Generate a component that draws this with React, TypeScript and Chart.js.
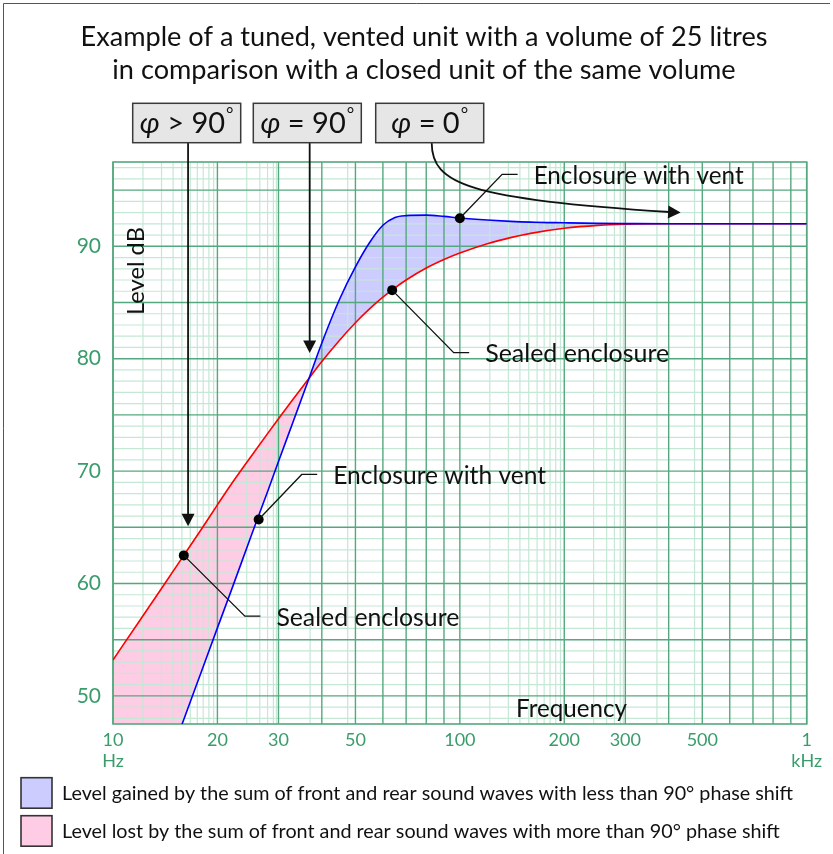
import React, { useEffect, useRef } from 'react';
import { Chart, registerables } from 'chart.js';

Chart.register(...registerables);

// ---------- data ----------
const frequencies = [10, 12, 14, 16, 18, 20, 22, 25, 28, 30, 33, 36, 40, 45, 50, 55, 60, 65, 70, 80, 90, 100, 120, 140, 160, 200, 250, 300, 400, 500, 700, 1000];
const sealedLevels = [53.2, 56.8, 59.85, 62.5, 64.85, 67.0, 68.9, 71.3, 73.4, 74.65, 76.37, 77.9, 79.75, 81.65, 83.2, 84.45, 85.47, 86.3, 87.0, 88.07, 88.83, 89.4, 90.23, 90.77, 91.15, 91.6, 91.86, 91.96, 92.0, 92.0, 92.0, 92.0];
const ventedLevels = [30.8, 37.4, 43.05, 47.9, 52.2, 56.05, 59.5, 64.2, 68.3, 70.85, 74.33, 77.5, 81.4, 85.29, 88.17, 90.36, 91.87, 92.57, 92.73, 92.77, 92.66, 92.52, 92.34, 92.22, 92.15, 92.09, 92.04, 92.02, 92.0, 92.0, 92.0, 92.0];

const markerFreqs = [100, 63.8, 26.3, 16];
const markerLevels = [92.5, 86.1, 65.7, 62.5];

const calloutTexts = ['Enclosure with vent', 'Sealed enclosure', 'Enclosure with vent', 'Sealed enclosure'];
const calloutElbowFreqs = [132.4, 96, 35, 24];
const calloutElbowLevels = [96.4, 80.54, 69.7, 57.1];

const phaseSigns = ['>', '=', '='];
const phaseDegrees = ['90', '90', '0'];
const arrowTipFreqs = [16.46, 36.9, 433];
const arrowTipLevels = [65.1, 80.5, 93.0];

const xTickValues = [10, 20, 30, 50, 100, 200, 300, 500, 1000];
const xTickLabels: (string | string[])[] = [['10', 'Hz'], '20', '30', '50', '100', '200', '300', '500', ['1', 'kHz']];
const yTickValues = [50, 60, 70, 80, 90];

const majorGridFreqs = [10, 20, 30, 40, 50, 60, 70, 80, 90, 100, 200, 300, 400, 500, 600, 700, 800, 900, 1000];
const minorGridFreqs = [12.2, 13.8, 14.9, 15.8, 16.7, 17.5, 18.2, 18.9, 19.5, 24.3, 26.5, 27.9, 29, 29.6, 37, 47.5,
  122, 138, 149, 158, 167, 175, 182, 189, 195, 243, 265, 279, 290, 296, 370, 475];

const titleLines = ['Example of a tuned, vented unit with a volume of 25 litres', 'in comparison with a closed unit of the same volume'];
const legendTexts = [
  'Level gained by the sum of front and rear sound waves with less than 90\u00b0 phase shift',
  'Level lost by the sum of front and rear sound waves with more than 90\u00b0 phase shift',
];

// ---------- styles ----------
const FONT = 'Lato, "Noto Sans", sans-serif';
const GRID_DARK = '#55a87e';
const GRID_LIGHT = '#c4e8d5';
const TICK_GREEN = '#3a9c6b';
const PINK = '#ffcce5';
const LAVENDER = '#ccccff';
const INK = '#111111';

function fitSize(ctx: CanvasRenderingContext2D, text: string, target: number, style = '') {
  ctx.font = `${style} 100px ${FONT}`;
  const w = ctx.measureText(text).width;
  return (100 * target) / w;
}

function line(ctx: CanvasRenderingContext2D, x1: number, y1: number, x2: number, y2: number) {
  ctx.beginPath();
  ctx.moveTo(x1, y1);
  ctx.lineTo(x2, y2);
  ctx.stroke();
}

function arrowHead(ctx: CanvasRenderingContext2D, tx: number, ty: number, dx: number, dy: number) {
  const len = 12.5;
  const half = 6.5;
  const n = Math.hypot(dx, dy);
  const ux = dx / n, uy = dy / n;
  const bx = tx - ux * len, by = ty - uy * len;
  ctx.beginPath();
  ctx.moveTo(tx, ty);
  ctx.lineTo(bx - uy * half, by + ux * half);
  ctx.lineTo(bx + uy * half, by - ux * half);
  ctx.closePath();
  ctx.fill();
}

const BOX_LEFTS = [132.7, 253.3, 375.7];
const BOX_W = 108;
const BOX_TOP = 103.3;
const BOX_H = 39.4;
const CALLOUT_WIDTHS = [210, 184, 213, 183];

const overlayPlugin = {
  id: 'overlay',
  beforeDatasetsDraw(chart: any) {
    const { ctx, chartArea: a } = chart;
    const xs = chart.scales.x;
    const ys = chart.scales.y;
    ctx.save();
    const hl = (v: number, c: string, w: number) => {
      const py = ys.getPixelForValue(v);
      ctx.strokeStyle = c; ctx.lineWidth = w;
      line(ctx, a.left, py, a.right, py);
    };
    const vl = (f: number, c: string, w: number) => {
      const px = xs.getPixelForValue(f);
      ctx.strokeStyle = c; ctx.lineWidth = w;
      line(ctx, px, a.top, px, a.bottom);
    };
    for (let v = Math.ceil(ys.min); v <= Math.floor(ys.max); v++) if (v % 5 !== 0) hl(v, GRID_LIGHT, 1.2);
    minorGridFreqs.forEach((f) => vl(f, GRID_LIGHT, 1.2));
    for (let v = Math.ceil(ys.min); v <= Math.floor(ys.max); v++) if (v % 5 === 0) hl(v, GRID_DARK, 1.4);
    majorGridFreqs.forEach((f) => vl(f, GRID_DARK, 1.4));
    ctx.strokeStyle = GRID_DARK;
    ctx.lineWidth = 1.6;
    ctx.strokeRect(a.left, a.top, a.right - a.left, a.bottom - a.top);
    ctx.restore();
  },
  afterDatasetsDraw(chart: any) {
    const { ctx, chartArea: a } = chart;
    const xs = chart.scales.x;
    const ys = chart.scales.y;
    ctx.save();
    ctx.strokeStyle = INK;
    ctx.fillStyle = INK;

    // callouts
    ctx.lineWidth = 1.3;
    calloutTexts.forEach((t, i) => {
      const mx = xs.getPixelForValue(markerFreqs[i]);
      const my = ys.getPixelForValue(markerLevels[i]);
      const ex = xs.getPixelForValue(calloutElbowFreqs[i]);
      const ey = ys.getPixelForValue(calloutElbowLevels[i]);
      ctx.beginPath();
      ctx.moveTo(mx, my);
      ctx.lineTo(ex, ey);
      ctx.lineTo(ex + 15.5, ey);
      ctx.stroke();
      ctx.font = `${fitSize(ctx, t, CALLOUT_WIDTHS[i]).toFixed(2)}px ${FONT}`;
      ctx.textAlign = 'left';
      ctx.textBaseline = 'middle';
      ctx.fillText(t, ex + 31.5, ey + 1.5);
    });

    // phase arrows
    ctx.lineWidth = 1.8;
    const boxBottom = BOX_TOP + BOX_H;
    for (let i = 0; i < 2; i++) {
      const tx = xs.getPixelForValue(arrowTipFreqs[i]);
      const ty = ys.getPixelForValue(arrowTipLevels[i]);
      line(ctx, tx, boxBottom, tx, ty - 10);
      arrowHead(ctx, tx, ty, 0, 1);
    }
    {
      const tx = xs.getPixelForValue(arrowTipFreqs[2]);
      const ty = ys.getPixelForValue(arrowTipLevels[2]);
      const sx = BOX_LEFTS[2] + BOX_W / 2 + 2;
      const sy = boxBottom;
      const bx = tx - 11;
      const by = ty - 0.6;
      ctx.beginPath();
      ctx.moveTo(sx, sy);
      ctx.bezierCurveTo(sx, sy + 42, sx + 38, by - 13, bx, by);
      ctx.stroke();
      arrowHead(ctx, tx, ty, 12, 0.6);
    }

    // axis captions inside the plot
    ctx.save();
    ctx.translate(a.left + 23.5, a.top + 109);
    ctx.rotate(-Math.PI / 2);
    ctx.font = `${fitSize(ctx, 'Level dB', 88).toFixed(2)}px ${FONT}`;
    ctx.textAlign = 'center';
    ctx.textBaseline = 'middle';
    ctx.fillText('Level dB', 0, 0);
    ctx.restore();

    ctx.font = `${fitSize(ctx, 'Frequency', 111).toFixed(2)}px ${FONT}`;
    ctx.textAlign = 'left';
    ctx.textBaseline = 'alphabetic';
    ctx.fillText('Frequency', 516, a.bottom - 7);
    ctx.restore();
  },
  afterDraw(chart: any) {
    const { ctx } = chart;
    ctx.save();
    // frame
    ctx.strokeStyle = '#555555';
    ctx.lineWidth = 1;
    ctx.beginPath();
    ctx.moveTo(830, 3.5);
    ctx.lineTo(3.5, 3.5);
    ctx.lineTo(3.5, 854);
    ctx.stroke();

    // title
    ctx.fillStyle = INK;
    ctx.textAlign = 'center';
    ctx.textBaseline = 'middle';
    const tSize = fitSize(ctx, titleLines[0], 687);
    ctx.font = `${tSize.toFixed(2)}px ${FONT}`;
    ctx.fillText(titleLines[0], 424, 37);
    ctx.fillText(titleLines[1], 424, 70);

    // phase boxes
    BOX_LEFTS.forEach((left, i) => {
      ctx.fillStyle = '#e6e6e6';
      ctx.fillRect(left, BOX_TOP, BOX_W, BOX_H);
      ctx.strokeStyle = '#3a3a3a';
      ctx.lineWidth = 1.5;
      ctx.strokeRect(left, BOX_TOP, BOX_W, BOX_H);
      const phi = '\u03c6';
      const rest = ` ${phaseSigns[i]} ${phaseDegrees[i]}`;
      const deg = '\u00b0';
      ctx.font = `italic 29px ${FONT}`;
      const w1 = ctx.measureText(phi).width;
      ctx.font = `29px ${FONT}`;
      const w2 = ctx.measureText(rest).width;
      ctx.font = `18px ${FONT}`;
      const w3 = ctx.measureText(deg).width;
      let x = left + (BOX_W - (w1 + w2 + w3 + 1)) / 2;
      const cy = BOX_TOP + BOX_H / 2 + 1;
      ctx.fillStyle = INK;
      ctx.textAlign = 'left';
      ctx.textBaseline = 'middle';
      ctx.font = `italic 29px ${FONT}`;
      ctx.fillText(phi, x, cy);
      x += w1;
      ctx.font = `29px ${FONT}`;
      ctx.fillText(rest, x, cy);
      x += w2 + 1;
      ctx.font = `18px ${FONT}`;
      ctx.fillText(deg, x, cy - 10);
    });

    // legend
    const swTop = [777.7, 815.7];
    const swFill = [LAVENDER, PINK];
    const lSize = fitSize(ctx, legendTexts[0], 731);
    legendTexts.forEach((t, i) => {
      ctx.fillStyle = swFill[i];
      ctx.fillRect(21, swTop[i], 31, 30.5);
      ctx.strokeStyle = '#333333';
      ctx.lineWidth = 1.6;
      ctx.strokeRect(21, swTop[i], 31, 30.5);
      ctx.fillStyle = INK;
      ctx.font = `${lSize.toFixed(2)}px ${FONT}`;
      ctx.textAlign = 'left';
      ctx.textBaseline = 'middle';
      ctx.fillText(t, 62, swTop[i] + 16);
    });
    ctx.restore();
  },
};

export default function App() {
  const canvasRef = useRef<HTMLCanvasElement | null>(null);

  useEffect(() => {
    const canvas = canvasRef.current;
    if (!canvas) return;
    const toPoints = (ys: number[]) => frequencies.map((f, i) => ({ x: f, y: ys[i] }));
    // index 0 markers (drawn last), 1 vented (carries the fill, drawn over sealed), 2 sealed
    const chart = new Chart(canvas, {
      type: 'line',
      data: {
        datasets: [
          {
            type: 'scatter',
            label: 'Markers',
            data: markerFreqs.map((f, i) => ({ x: f, y: markerLevels[i] })),
            pointRadius: 5,
            pointBackgroundColor: '#000000',
            pointBorderColor: '#000000',
            pointBorderWidth: 0,
            showLine: false,
            fill: false,
          } as any,
          {
            label: 'Enclosure with vent',
            data: toPoints(ventedLevels),
            borderColor: '#0000ff',
            borderWidth: 1.6,
            pointRadius: 0,
            cubicInterpolationMode: 'monotone',
            fill: { target: 2, above: LAVENDER, below: PINK },
          } as any,
          {
            label: 'Sealed enclosure',
            data: toPoints(sealedLevels),
            borderColor: '#ff0000',
            borderWidth: 1.6,
            pointRadius: 0,
            cubicInterpolationMode: 'monotone',
            fill: false,
          } as any,
        ],
      },
      options: {
        responsive: false,
        animation: false,
        devicePixelRatio: 1,
        layout: { padding: { left: 0, right: 26.3, top: 162, bottom: 0 } },
        plugins: {
          legend: { display: false },
          tooltip: { enabled: false },
          title: { display: false },
          filler: { drawTime: 'beforeDraw', propagate: false },
        },
        scales: {
          x: {
            type: 'logarithmic',
            min: 10,
            max: 1000,
            grid: { display: false, drawTicks: false },
            border: { display: false },
            afterBuildTicks: (scale: any) => {
              scale.ticks = xTickValues.map((v) => ({ value: v }));
            },
            afterFit: (scale: any) => {
              scale.height = 130;
            },
            ticks: {
              autoSkip: false,
              maxRotation: 0,
              minRotation: 0,
              padding: 6,
              color: TICK_GREEN,
              font: { family: FONT, size: 18, lineHeight: 1.15 },
              callback: (_v: any, i: number) => xTickLabels[i],
            },
          },
          y: {
            type: 'linear',
            min: 47.5,
            max: 97.5,
            grid: { display: false, drawTicks: false },
            border: { display: false },
            afterBuildTicks: (scale: any) => {
              scale.ticks = yTickValues.map((v) => ({ value: v }));
            },
            afterFit: (scale: any) => {
              scale.width = 113;
            },
            ticks: {
              padding: 12,
              color: TICK_GREEN,
              font: { family: FONT, size: 21 },
              callback: (v: any) => String(v),
            },
          },
        },
      },
      plugins: [overlayPlugin],
    });
    return () => chart.destroy();
  }, []);

  return (
    <div style={{ position: 'absolute', left: 0, top: 0, width: 833, height: 854, background: '#ffffff' }}>
      <canvas ref={canvasRef} width={833} height={854} style={{ width: 833, height: 854, display: 'block' }} />
    </div>
  );
}
